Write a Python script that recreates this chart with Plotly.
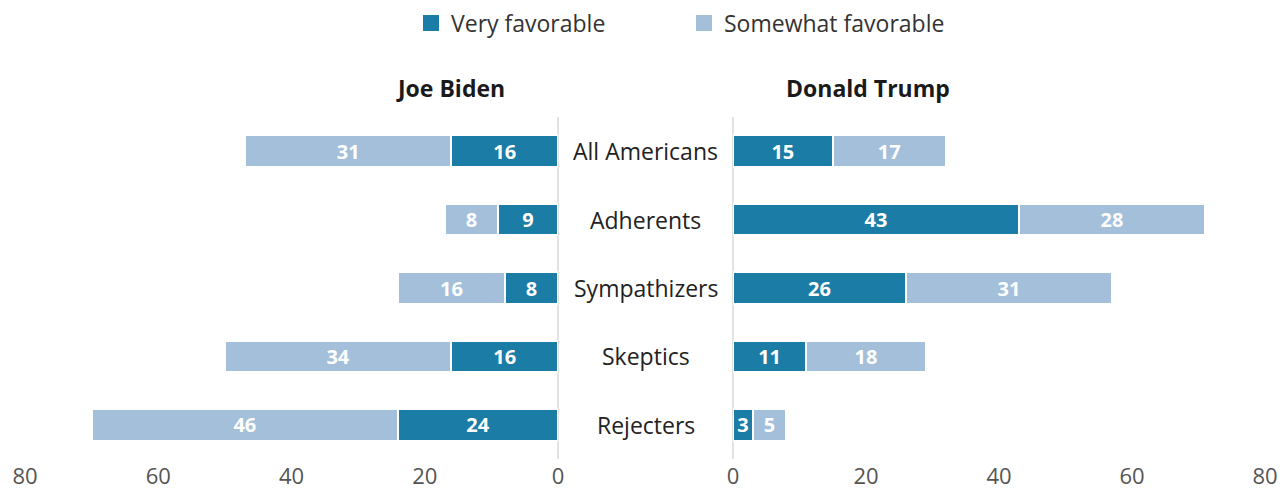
import plotly.graph_objects as go

categories = ["All Americans", "Adherents", "Sympathizers", "Skeptics", "Rejecters"]
biden_very = [16, 9, 8, 16, 24]
biden_somewhat = [31, 8, 16, 34, 46]
trump_very = [15, 43, 26, 11, 3]
trump_somewhat = [17, 28, 31, 18, 5]
tick_vals = [0, 20, 40, 60, 80]

DARK = "#1b7ca6"
LIGHT = "#a3bfd9"
FONT = "Open Sans"

W, H = 1280, 483
TOP, BOT = 109, 451

fig = go.Figure()

def add(x, name, color, xa):
    fig.add_trace(go.Bar(
        y=categories, x=x, name=name, orientation="h",
        marker=dict(color=color, line=dict(color="white", width=2)),
        text=x, texttemplate="<b>%{x}</b>", textposition="inside",
        insidetextanchor="middle", textangle=0,
        textfont=dict(color="white", size=20, family=FONT),
        xaxis=xa, yaxis="y", showlegend=False,
        width=0.46, hoverinfo="skip",
    ))

add(biden_very, "Very favorable", DARK, "x")
add(biden_somewhat, "Somewhat favorable", LIGHT, "x")
add(trump_very, "Very favorable", DARK, "x2")
add(trump_somewhat, "Somewhat favorable", LIGHT, "x2")

# legend-only markers
for name, color in [("Very favorable", DARK), ("Somewhat favorable", LIGHT)]:
    fig.add_trace(go.Scatter(x=[None], y=[None], mode="markers", name=name,
                             marker=dict(symbol="square", size=16, color=color),
                             xaxis="x", yaxis="y", showlegend=True, hoverinfo="skip"))

axis_common = dict(
    tickvals=tick_vals, showgrid=False, zeroline=True, zerolinecolor="#e2e2e2",
    zerolinewidth=1.5, showline=False, ticks="", automargin=False,
    ticklabelstandoff=2,
    tickfont=dict(family=FONT, size=22, color="#555555"),
)
fig.update_layout(
    barmode="stack",
    width=W, height=H,
    margin=dict(l=0, r=0, t=TOP, b=H - BOT, autoexpand=False),
    paper_bgcolor="white", plot_bgcolor="white",
    font=dict(family=FONT),
    xaxis=dict(domain=[17/W, 550/W], range=[80, 0], **axis_common),
    xaxis2=dict(domain=[725/W, 1257/W], range=[0, 80], **axis_common),
    yaxis=dict(categoryorder="array", categoryarray=categories, autorange=False,
               range=[4.5, -0.5], showticklabels=False, showgrid=False, zeroline=False,
               automargin=False),
    legend=dict(orientation="h", xref="container", yref="container",
                x=403/W, xanchor="left", y=1 - 15/H, yanchor="middle",
                font=dict(family=FONT, size=23, color="#333333"),
                itemsizing="trace",
                entrywidth=228, entrywidthmode="pixels", traceorder="normal"),
    uniformtext=dict(minsize=20, mode="show"),
    showlegend=True,
)

for c in categories:
    fig.add_annotation(x=637.5/W, xref="paper", y=c, yref="y", text=c, showarrow=False,
                       xanchor="center", font=dict(family=FONT, size=23, color="#222222"))

title_y = (BOT - 80) / (BOT - TOP)
fig.add_annotation(x=442/W, xref="paper", y=title_y, yref="paper", text="<b>Joe Biden</b>",
                   showarrow=False, xanchor="center", yanchor="middle",
                   font=dict(family=FONT, size=23, color="#1a1a1a"))
fig.add_annotation(x=860/W, xref="paper", y=title_y, yref="paper", text="<b>Donald Trump</b>",
                   showarrow=False, xanchor="center", yanchor="middle",
                   font=dict(family=FONT, size=23, color="#1a1a1a"))

fig.write_html("out.html")
